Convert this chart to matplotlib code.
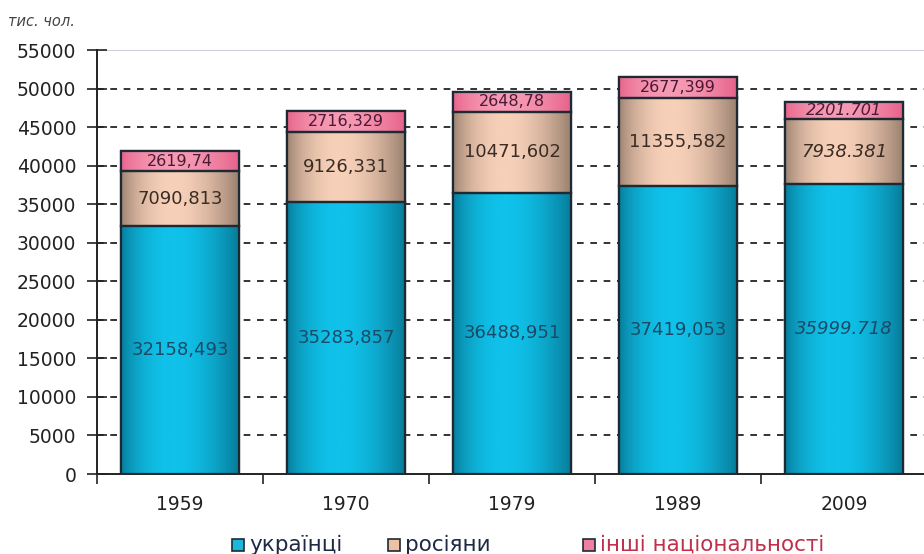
import numpy as np
import matplotlib.pyplot as plt
from matplotlib.colors import LinearSegmentedColormap
from matplotlib.patches import Rectangle

plt.rcParams['font.family'] = ['DejaVu Sans']

years = ['1959', '1970', '1979', '1989', '2009']
# bar heights
ukr = [32158.493, 35283.857, 36488.951, 37419.053, 37600]
rus = [7090.813, 9126.331, 10471.602, 11355.582, 8400]
oth = [2619.74, 2716.329, 2648.78, 2677.399, 2200]
# printed labels
ukr_lbl = ['32158,493', '35283,857', '36488,951', '37419,053', '35999.718']
rus_lbl = ['7090,813', '9126,331', '10471,602', '11355,582', '7938.381']
oth_lbl = ['2619,74', '2716,329', '2648,78', '2677,399', '2201.701']
italic = [False, False, False, False, True]

legend_names = ['українці', 'росіяни', 'інші національності']
legend_colors = ['#1cb8dc', '#eec0a4', '#f07ea0']
legend_text_colors = ['#1e2a44', '#1e2a44', '#c0304c']

fig = plt.figure(figsize=(9.24, 5.54), dpi=100)
ax = fig.add_axes([97/924, 1-474/554, 830/924, 424/554])

x = np.arange(len(years))
w = 0.71

def grad_cmap(edge, mid):
    return LinearSegmentedColormap.from_list('g', [edge, mid])

# cylinder-like shading, brightest a bit left of centre
t = np.linspace(0, 1, 200)
prof = np.sin(np.pi * t ** 0.85) ** 0.9
prof = prof.reshape(1, -1)

segs = [
    (ukr, np.zeros(5), grad_cmap('#077c9a', '#10c2ea'), '#10b8e0'),
    (rus, np.array(ukr), grad_cmap('#9a806f', '#f7d0b8'), '#f0c4a8'),
    (oth, np.array(ukr) + np.array(rus), grad_cmap('#e6628a', '#f79ab4'), '#f088a6'),
]

for vals, bottom, cmap, flat in segs:
    bars = ax.bar(x, vals, w, bottom=bottom, color=flat, edgecolor='#1e2a33',
                  linewidth=1.6, zorder=3)
    for b in bars:
        x0, y0 = b.get_x(), b.get_y()
        im = ax.imshow(prof, cmap=cmap, aspect='auto', zorder=3.5,
                       extent=[x0, x0 + b.get_width(), y0, y0 + b.get_height()],
                       vmin=0, vmax=1)
        im.set_clip_path(b)
        ax.add_patch(Rectangle((x0, y0), b.get_width(), b.get_height(),
                               fill=False, edgecolor='#1e2a33', lw=1.6, zorder=4))

u = np.array(ukr)
r = np.array(rus)
o = np.array(oth)
for i in range(5):
    st = 'italic' if italic[i] else 'normal'
    ax.text(x[i], u[i] / 2, ukr_lbl[i], ha='center', va='center', fontsize=13,
            color='#1b4a66', style=st, zorder=5)
    ax.text(x[i], u[i] + r[i] / 2, rus_lbl[i], ha='center', va='center', fontsize=13,
            color='#3a2c24', style=st, zorder=5)
    ax.text(x[i], u[i] + r[i] + o[i] / 2, oth_lbl[i], ha='center', va='center',
            fontsize=11.5, color='#4a1a36', style=st, zorder=5)

ax.set_xlim(-0.5, 4.5)
ax.set_ylim(0, 55000)

ax.set_yticks(np.arange(0, 55001, 5000))
ax.set_yticklabels([str(v) for v in range(0, 55001, 5000)], fontsize=13.5, color='#222222')
for v in range(5000, 55000, 5000):
    ax.axhline(v, color='#111111', lw=1.2, ls=(0, (4, 4)), zorder=1)
ax.axhline(55000, color='#c4c4dc', lw=1.2, zorder=1)

ax.set_xticks(np.arange(-0.5, 5, 1))
ax.set_xticklabels([])
ax.set_xticks(x, minor=True)
ax.set_xticklabels(years, minor=True, fontsize=13.5, color='#222222')
ax.tick_params(axis='x', which='major', direction='out', length=7, width=1.2, color='#222222')
ax.tick_params(axis='x', which='minor', length=0, pad=15)
ax.tick_params(axis='y', direction='inout', length=14, width=1.2, color='#222222', pad=8)

for s in ['top', 'right']:
    ax.spines[s].set_visible(False)
for s in ['left', 'bottom']:
    ax.spines[s].set_color('#222222')
    ax.spines[s].set_linewidth(1.4)

fig.text(8/924, 1-22/554, 'тис. чол.', fontsize=10.5, style='italic', color='#444444',
         va='center', ha='left')

# legend laid out by hand to match the spacing of the original
leg_x = [232, 388, 583]
for lx, name, fc, tc in zip(leg_x, legend_names, legend_colors, legend_text_colors):
    fig.add_artist(Rectangle((lx/924, 1-551/554), 12/924, 12/554, transform=fig.transFigure,
                             facecolor=fc, edgecolor='#1e2a33', lw=1.2))
    fig.text((lx + 17)/924, 1-545/554, name, fontsize=15.5, color=tc,
             va='center', ha='left')

fig.savefig('out.png', dpi=100)
